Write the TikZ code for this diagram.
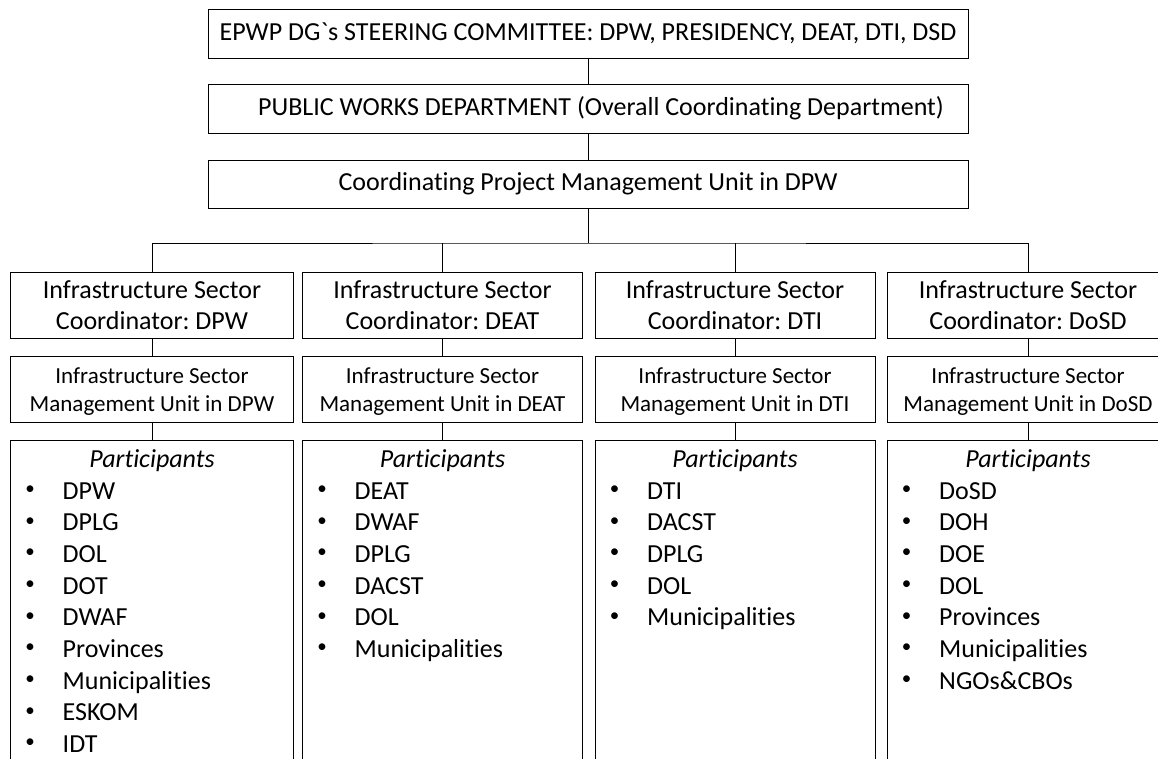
\documentclass[tikz,border=0pt]{standalone}
\usepackage{fontspec}
\newfontfamily\calfont{Carlito}[Ligatures=NoCommon]
\frenchspacing
\begin{document}
\frenchspacing
\begin{tikzpicture}[x=1pt,y=-1pt,
  box/.style={draw, line width=1pt, inner sep=0pt, align=center},
  big/.style={font=\calfont\frenchspacing\fontsize{26}{31}\selectfont},
  mid/.style={font=\calfont\frenchspacing\fontsize{23}{28}\selectfont},
  itemtxt/.style={font=\calfont\fontsize{26}{31}\selectfont, inner sep=0pt, anchor=base west},
  bullettxt/.style={font=\calfont\fontsize{19}{31}\selectfont, inner sep=0pt, anchor=center},
  conn/.style={line width=1pt}]
\clip (0,0) rectangle (1158,758);
\fill[white] (0,0) rectangle (1158,758);
% top chain
\node[box,big,minimum width=760pt,minimum height=49pt] (steer) at (588,33.5) {EPWP DG`s STEERING COMMITTEE: DPW, PRESIDENCY, DEAT, DTI, DSD};
\node[box,big,minimum width=760pt,minimum height=49pt] (pwd) at (588,108.5) {\hspace*{26pt}PUBLIC WORKS DEPARTMENT (Overall Coordinating Department)};
\node[box,big,minimum width=760pt,minimum height=48pt] (cpmu) at (588,184) {Coordinating Project Management Unit in DPW};
\draw[conn] (steer.south) -- (pwd.north);
\draw[conn] (pwd.south) -- (cpmu.north);
\coordinate (bus) at (588,243);
\draw[conn] (cpmu.south) -- (bus);
% sector columns
\foreach \n/\cx/\w/\s in {A/152/283/DPW, B/442.5/280/DEAT, C/735/280/DTI, D/1028/282/DoSD}{
  \node[box,big,minimum width=\w pt,minimum height=66pt] (c\n) at (\cx,305) {Infrastructure Sector\\Coordinator: \s};
  \node[box,minimum width=\w pt,minimum height=66pt] (m\n) at (\cx,389) {};
  \node[mid,inner sep=0pt,align=center] (mt\n) at (\cx,392) {Infrastructure Sector\\Management Unit in \s};
  \node[box,minimum width=\w pt,minimum height=360pt] (p\n) at (\cx,620) {};
  \draw[conn] (c\n.south) -- (m\n.north);
  \draw[conn] (m\n.south) -- (p\n.north);
  \node[font=\calfont\itshape\fontsize{26}{31}\selectfont, inner sep=0pt, anchor=base] (t\n) at (\cx,467) {Participants};
}
\draw[conn] (cA.north) |- (bus) -| (cD.north);
\draw[conn] (cB.north) -- (cB.north |- bus);
\draw[conn] (cC.north) -- (cC.north |- bus);
% participant lists
\foreach \n/\lx/\lst in {A/10.5/{DPW,DPLG,DOL,DOT,DWAF,Provinces,Municipalities,ESKOM,IDT},
                     B/302.5/{DEAT,DWAF,DPLG,DACST,DOL,Municipalities},
                     C/595/{DTI,DACST,DPLG,DOL,Municipalities},
                     D/887/{DoSD,DOH,DOE,DOL,Provinces,Municipalities,NGOs\&CBOs}}{
  \foreach \itm [count=\k from 0] in \lst {
    \node[bullettxt] (b\n\k) at ({\lx+19.5},{490+31.7*\k}) {•};
    \node[itemtxt] (i\n\k) at ({\lx+52},{499+31.7*\k}) {\itm};
  }
}
\end{tikzpicture}
\end{document}
